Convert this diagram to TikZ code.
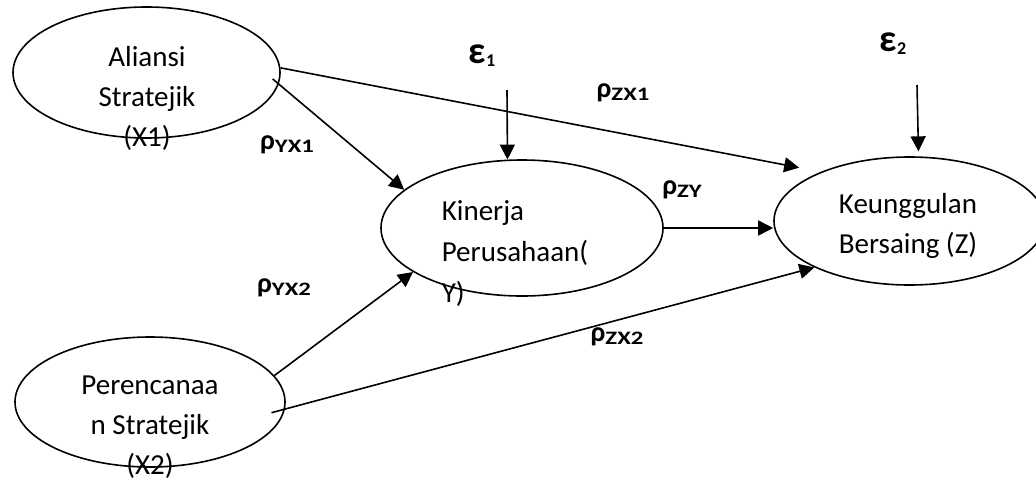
\documentclass[tikz,border=0pt]{standalone}
\usepackage{fontspec}
\setmainfont{Carlito}
\usetikzlibrary{shapes.geometric}
\usetikzlibrary{arrows.meta}
\newcommand{\subidx}[1]{{\fontsize{19}{19}\selectfont\addfontfeature{FakeStretch=1.3}\raisebox{-3pt}{#1}}}
\newcommand{\erridx}[1]{{\fontsize{18}{18}\selectfont\raisebox{-3pt}{#1}}}

\begin{document}
\begin{tikzpicture}
[x=1pt,y=-1pt,line width=1.6pt,%
  var/.style={shape=ellipse,draw,inner sep=0pt},%
  txt/.style={inner sep=0pt,font=\fontsize{29}{40}\selectfont},%
  coef/.style={inner sep=0pt,font=\fontsize{28}{30}\selectfont\bfseries},%
  err/.style={inner sep=0pt,font=\fontsize{38}{40}\selectfont\bfseries},%
  arr/.style={-{Triangle[length=15pt,width=15pt]}}]
\useasboundingbox (0,0) rectangle (1036,480);
% variables
\node[var,minimum width=267pt,minimum height=131pt] (x1) at (146.5,72.5) {};
\node[var,minimum width=270pt,minimum height=130pt] (x2) at (150,402) {};
\node[var,minimum width=282pt,minimum height=136pt] (y) at (522,228) {};
\node[var,minimum width=271pt,minimum height=128pt] (z) at (909.5,221) {};
\node[txt,align=center] (x1txt) at (147,98) {Aliansi\\Stratejik\\(X1)};
\node[txt,align=center] (x2txt) at (150,427) {Perencanaa\\n Stratejik\\(X2)};
\node[txt,align=left,anchor=west,font=\fontsize{29}{41}\selectfont] (ytxt) at (441,253.5) {Kinerja\\Perusahaan(\\Y)};
\node[txt,align=center] (ztxt) at (908,226) {Keunggulan\\Bersaing (Z)};
% errors
\node[err] (e1) at (482,56) {ε\erridx{1}};
\node[err] (e2) at (893,44) {ε\erridx{2}};
\coordinate (e1s) at (507,90);
\coordinate (e2s) at (917,85);
% coefficients
\node[coef] (pyx1) at (287,145) {ρ\subidx{YX1}};
\node[coef] (pzx1) at (623,93) {ρ\subidx{ZX1}};
\node[coef] (pzy) at (682,190) {ρ\subidx{ZY}};
\node[coef] (pyx2) at (284,288) {ρ\subidx{YX2}};
\node[coef] (pzx2) at (617,337) {ρ\subidx{ZX2}};
% paths
\draw[arr] (x1.2) -- (z.151) [shorten >=22pt];
\draw[arr,shorten <=-8pt] (x1.-5) -- (y.162);
\draw[arr] (x2.12) -- (y.202);
\draw[arr,shorten <=-14pt] (x2.-3) -- (z.206);
\draw[arr] (y.east) -- (y.east -| z.west);
\draw[arr] (e1s) -- (y.102.5);
\draw[arr,shorten >=5pt] (e2s) -- (z.82);
\end{tikzpicture}
\end{document}
